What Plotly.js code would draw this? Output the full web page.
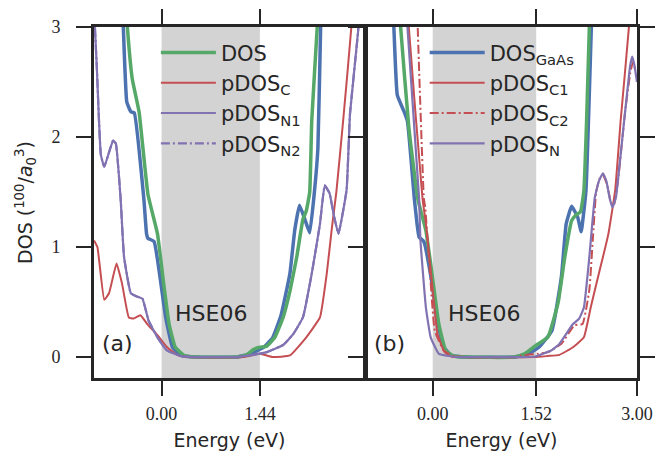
<!DOCTYPE html>
<html>
<head>
<meta charset="utf-8">
<script src="https://cdn.plot.ly/plotly-3.0.1.min.js"></script>
<style>
  html, body { margin: 0; padding: 0; background: #ffffff; }
  #chart { width: 670px; height: 464px; }
</style>
</head>
<body>
<div id="chart"></div>
<script>
// Band gaps (eV) shaded in each panel
const gapA = 1.44;
const gapB = 1.52;

// ---- Panel (a) ----
const aDosGaAsE = [-0.58, -0.56, -0.51, -0.45, -0.40, -0.26, -0.22, -0.20, -0.11, -0.01, 0.06, 0.16, 0.28, 0.50, 1.10, 1.30, 1.50, 1.63, 1.75, 1.88, 1.95, 2.02, 2.10, 2.17, 2.24, 2.29, 2.33, 2.35];
const aDosGaAs  = [3.30, 2.99, 2.32, 2.23, 2.22, 1.44, 1.12, 1.08, 1.05, 0.67, 0.36, 0.09, 0.015, 0.0, 0.0, 0.03, 0.09, 0.18, 0.38, 0.76, 1.15, 1.38, 1.25, 1.13, 1.51, 1.90, 3.00, 3.30];

const aDosE = [-0.53, -0.50, -0.43, -0.33, -0.20, -0.06, 0.03, 0.11, 0.20, 0.33, 0.50, 1.10, 1.24, 1.35, 1.44, 1.54, 1.66, 1.78, 1.88, 1.98, 2.07, 2.12, 2.17, 2.20, 2.28, 2.30];
const aDos  = [3.30, 2.99, 2.53, 2.23, 1.48, 1.12, 0.67, 0.30, 0.09, 0.015, 0.0, 0.0, 0.02, 0.07, 0.09, 0.10, 0.18, 0.36, 0.60, 0.91, 1.25, 1.33, 1.50, 2.15, 3.00, 3.30];

const aPdosCE = [-0.99, -0.94, -0.84, -0.77, -0.66, -0.58, -0.48, -0.41, -0.31, -0.21, -0.06, 0.08, 0.23, 0.40, 1.20, 1.44, 1.63, 1.88, 2.12, 2.32, 2.42, 2.49, 2.56, 2.66, 2.78, 2.80];
const aPdosC  = [1.06, 1.00, 0.52, 0.58, 0.85, 0.67, 0.36, 0.35, 0.38, 0.30, 0.20, 0.09, 0.02, 0.0, 0.0, 0.03, 0.0, 0.015, 0.18, 0.36, 0.76, 1.15, 1.50, 2.15, 3.00, 3.30];

const aPdosN1E = [-1.00, -0.95, -0.89, -0.84, -0.71, -0.67, -0.60, -0.55, -0.45, -0.36, -0.28, -0.19, -0.06, 0.08, 0.28, 0.50, 1.10, 1.29, 1.54, 1.78, 1.93, 2.07, 2.20, 2.32, 2.39, 2.46, 2.52, 2.59, 2.71, 2.76, 2.88, 2.90];
const aPdosN1  = [3.30, 2.65, 1.84, 1.73, 1.97, 1.94, 1.44, 0.91, 0.58, 0.55, 0.53, 0.33, 0.18, 0.06, 0.01, 0.0, 0.0, 0.015, 0.045, 0.11, 0.21, 0.36, 0.76, 1.21, 1.56, 1.49, 1.30, 1.12, 1.52, 2.21, 2.97, 3.30];

const aPdosN2E = [-1.00, -0.95, -0.89, -0.84, -0.71, -0.67, -0.60, -0.55, -0.45, -0.36, -0.28, -0.19, -0.06, 0.08, 0.28, 0.50, 1.10, 1.29, 1.54, 1.78, 1.93, 2.07, 2.20, 2.32, 2.39, 2.46, 2.52, 2.59, 2.71, 2.76, 2.88, 2.90];
const aPdosN2  = [3.30, 2.65, 1.84, 1.73, 1.97, 1.94, 1.44, 0.91, 0.58, 0.55, 0.53, 0.33, 0.18, 0.06, 0.01, 0.0, 0.0, 0.015, 0.045, 0.11, 0.21, 0.36, 0.76, 1.21, 1.56, 1.49, 1.30, 1.12, 1.52, 2.21, 2.97, 3.30];

// ---- Panel (b) ----
const bDosGaAsE = [-0.59, -0.57, -0.52, -0.42, -0.37, -0.27, -0.23, -0.20, -0.13, -0.01, 0.06, 0.16, 0.28, 0.50, 1.20, 1.40, 1.56, 1.75, 1.89, 1.96, 2.04, 2.13, 2.18, 2.25, 2.33, 2.35];
const bDosGaAs  = [3.30, 2.99, 2.38, 2.23, 2.14, 1.44, 1.21, 1.09, 1.05, 0.67, 0.36, 0.09, 0.015, 0.0, 0.0, 0.03, 0.09, 0.24, 0.73, 1.21, 1.37, 1.27, 1.14, 1.51, 3.00, 3.30];

const bDosE = [-0.50, -0.47, -0.35, -0.22, -0.10, -0.02, 0.09, 0.19, 0.30, 0.50, 1.20, 1.35, 1.50, 1.69, 1.84, 1.94, 2.04, 2.10, 2.17, 2.22, 2.26, 2.30, 2.32];
const bDos  = [3.30, 2.99, 2.08, 1.44, 1.15, 0.80, 0.30, 0.06, 0.01, 0.0, 0.0, 0.03, 0.10, 0.18, 0.49, 0.91, 1.24, 1.29, 1.32, 1.51, 2.15, 3.00, 3.30];

const bPdosC1E = [-0.37, -0.35, -0.15, -0.10, 0.00, 0.07, 0.17, 0.25, 0.40, 1.50, 1.69, 1.86, 2.06, 2.22, 2.32, 2.44, 2.50, 2.58, 2.68, 2.76, 2.88, 2.90];
const bPdosC1  = [3.30, 2.99, 1.44, 1.21, 0.61, 0.21, 0.05, 0.01, 0.0, 0.0, 0.01, 0.02, 0.09, 0.18, 0.45, 0.76, 0.91, 1.12, 1.52, 2.15, 2.99, 3.30];

const bPdosC2E = [-0.23, -0.22, -0.13, -0.11, -0.04, 0.03, 0.16, 0.30, 0.50, 1.20, 1.30, 1.54, 1.69, 1.89, 2.08, 2.20, 2.30, 2.35, 2.40, 2.45, 2.50, 2.56, 2.62, 2.66, 2.72, 2.82, 2.90, 2.94, 2.98];
const bPdosC2  = [3.30, 2.99, 1.44, 1.36, 0.76, 0.24, 0.06, 0.01, 0.0, 0.0, 0.015, 0.03, 0.045, 0.12, 0.29, 0.30, 0.61, 1.06, 1.50, 1.62, 1.65, 1.57, 1.40, 1.38, 1.60, 2.20, 2.58, 2.68, 2.60];

const bPdosNE = [-0.39, -0.37, -0.20, -0.18, -0.10, -0.03, 0.09, 0.24, 0.40, 1.30, 1.50, 1.74, 1.86, 1.96, 2.06, 2.15, 2.22, 2.30, 2.38, 2.44, 2.50, 2.55, 2.60, 2.64, 2.69, 2.80, 2.90, 2.93, 2.96, 3.00];
const bPdosN  = [3.30, 2.99, 1.44, 1.06, 0.45, 0.18, 0.03, 0.01, 0.0, 0.0, 0.005, 0.06, 0.12, 0.21, 0.30, 0.35, 0.45, 0.91, 1.45, 1.60, 1.67, 1.60, 1.44, 1.36, 1.45, 2.08, 2.65, 2.73, 2.66, 2.50];

// Tick labels
const yTicks = [0, 1, 2, 3];
const yTickText = ['0', '1', '2', '3'];
const aTicks = [0, 1.44];
const aTickText = ['0.00', '1.44'];
const bTicks = [0, 1.52, 3.00];
const bTickText = ['0.00', '1.52', '3.00'];

const BLUE = '#4C72B0', GREEN = '#55A868', RED = '#C44E52', PURPLE = '#8172B2';
const DASHDOT = '9px,3px,2px,3px';
const SANS = 'DejaVu Sans, sans-serif';
const SERIF = 'Liberation Serif, DejaVu Serif, serif';
const INK = '#262626';

function line(x, y, color, width, dash, name, xa, ya, legend, show) {
  return {
    type: 'scatter', mode: 'lines', x: x, y: y, name: name,
    xaxis: xa, yaxis: ya, legend: legend, showlegend: show,
    line: { color: color, width: width, dash: dash || 'solid', shape: 'spline', smoothing: 0.35 },
    hoverinfo: 'skip'
  };
}

const traces = [
  line(aDosGaAsE, aDosGaAs, BLUE, 3.5, null, 'DOS<sub>GaAs</sub>', 'x', 'y', 'legend', false),
  line(aDosE, aDos, GREEN, 3.5, null, 'DOS', 'x', 'y', 'legend', true),
  line(aPdosCE, aPdosC, RED, 2, null, 'pDOS<sub>C</sub>', 'x', 'y', 'legend', true),
  line(aPdosN1E, aPdosN1, PURPLE, 2.2, null, 'pDOS<sub>N1</sub>', 'x', 'y', 'legend', true),
  line(aPdosN2E, aPdosN2, PURPLE, 2.2, DASHDOT, 'pDOS<sub>N2</sub>', 'x', 'y', 'legend', true),

  line(bDosGaAsE, bDosGaAs, BLUE, 3.5, null, 'DOS<sub>GaAs</sub>', 'x2', 'y2', 'legend2', true),
  line(bDosE, bDos, GREEN, 3.5, null, 'DOS', 'x2', 'y2', 'legend2', false),
  line(bPdosC1E, bPdosC1, RED, 2, null, 'pDOS<sub>C1</sub>', 'x2', 'y2', 'legend2', true),
  line(bPdosC2E, bPdosC2, RED, 2, DASHDOT, 'pDOS<sub>C2</sub>', 'x2', 'y2', 'legend2', true),
  line(bPdosNE, bPdosN, PURPLE, 2.2, null, 'pDOS<sub>N</sub>', 'x2', 'y2', 'legend2', true)
];

const baseX = {
  showgrid: false, zeroline: false, showline: true, linecolor: INK, linewidth: 3,
  mirror: 'ticks', ticks: 'outside', ticklen: 15, tickwidth: 2, tickcolor: INK,
  tickfont: { family: SERIF, size: 18, color: INK }, ticklabelstandoff: 2,
  title: { text: 'Energy (eV)', font: { family: SANS, size: 19, color: INK }, standoff: 12 }
};
const baseY = {
  showgrid: false, zeroline: false, showline: true, linecolor: INK, linewidth: 3,
  ticks: 'outside', ticklen: 15, tickwidth: 2, tickcolor: INK,
  range: [-0.19, 3.0], tickvals: yTicks, ticktext: yTickText,
  tickfont: { family: SERIF, size: 18, color: INK }, ticklabelstandoff: 12
};

const legendBase = {
  xanchor: 'left', yanchor: 'top', bgcolor: 'rgba(0,0,0,0)',
  font: { family: SANS, size: 21, color: INK }, itemwidth: 55, tracegroupgap: 0
};

const layout = {
  width: 670, height: 464,
  margin: { l: 94, r: 33, t: 27, b: 86 },
  paper_bgcolor: '#ffffff', plot_bgcolor: '#ffffff',
  showlegend: true,
  xaxis: Object.assign({}, baseX, { domain: [0, 0.4991], range: [-0.99, 2.98], tickvals: aTicks, ticktext: aTickText, anchor: 'y' }),
  xaxis2: Object.assign({}, baseX, { domain: [0.5009, 1], range: [-0.98, 3.0], tickvals: bTicks, ticktext: bTickText, anchor: 'y2' }),
  yaxis: Object.assign({}, baseY, { mirror: true, anchor: 'x',
    title: { text: 'DOS (<sup>100</sup>/<i>a</i><sub>0</sub><sup>3</sup>)', font: { family: SANS, size: 19, color: INK }, standoff: 14 } }),
  yaxis2: Object.assign({}, baseY, { mirror: 'ticks', anchor: 'x2', showticklabels: false }),
  legend: Object.assign({}, legendBase, { x: 0.114, y: 0.985 }),
  legend2: Object.assign({}, legendBase, { x: 0.609, y: 0.985 }),
  shapes: [
    { type: 'rect', xref: 'x', yref: 'y domain', x0: 0, x1: gapA, y0: 0, y1: 1, fillcolor: '#d3d3d3', line: { width: 0 }, layer: 'below' },
    { type: 'rect', xref: 'x2', yref: 'y2 domain', x0: 0, x1: gapB, y0: 0, y1: 1, fillcolor: '#d3d3d3', line: { width: 0 }, layer: 'below' }
  ],
  annotations: [
    { xref: 'x', yref: 'y', x: gapA / 2, y: 0.4, text: 'HSE06', showarrow: false, font: { family: SANS, size: 22, color: INK } },
    { xref: 'x2', yref: 'y2', x: gapB / 2, y: 0.4, text: 'HSE06', showarrow: false, font: { family: SANS, size: 22, color: INK } },
    { xref: 'x', yref: 'y', x: -0.65, y: 0.12, text: '(a)', showarrow: false, font: { family: SANS, size: 22, color: INK } },
    { xref: 'x2', yref: 'y2', x: -0.64, y: 0.12, text: '(b)', showarrow: false, font: { family: SANS, size: 22, color: INK } }
  ]
};

Plotly.newPlot('chart', traces, layout, { staticPlot: true, displayModeBar: false });
</script>
</body>
</html>
